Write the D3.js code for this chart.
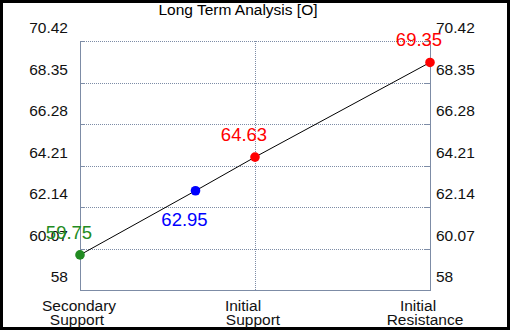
<!DOCTYPE html>
<html><head><meta charset="utf-8">
<script src="https://cdn.jsdelivr.net/npm/d3@7"></script>
<style>
html,body{margin:0;padding:0;background:#fff;}
svg{display:block;font-family:"Liberation Sans",Arial,sans-serif;}
</style></head>
<body>
<svg id="chart" width="510" height="330"></svg>
<script>
const title = "Long Term Analysis [O]";
const categories = [["Secondary","Support"],["Initial","Support"],["Initial","Resistance"]];
const categoryPos = [0, 1, 2];
const yTicks = [58, 60.07, 62.14, 64.21, 66.28, 68.35, 70.42];
const pointValues = [59.75, 62.95, 64.63, 69.35];
const pointPos = [0, 0.66, 1, 2];
const pointColors = ["#228b22", "#0000ff", "#ff0000", "#ff0000"];
const labelBelow = [false, true, false, false];

const W = 510, H = 330;
const svg = d3.select("#chart");
svg.append("rect").attr("x",0).attr("y",0).attr("width",W).attr("height",H).attr("fill","#000");
svg.append("rect").attr("x",3).attr("y",3).attr("width",504).attr("height",324).attr("fill","#fff");

const x = d3.scaleLinear().domain([0,2]).range([80,430]);
const y = d3.scaleLinear().domain([58,70.42]).range([290,41]);
const axisColor = "#7d8ca6";
const textColor = "#111";

// horizontal gridlines
svg.append("g").selectAll("line").data(yTicks.filter(t=>t!==58)).join("line")
  .attr("x1",x(0)).attr("x2",x(2))
  .attr("y1",d=>Math.round(y(d))+0.5).attr("y2",d=>Math.round(y(d))+0.5)
  .attr("stroke",axisColor).attr("stroke-width",1).attr("stroke-dasharray","1,1");
// vertical gridline at middle category
svg.append("line").attr("x1",Math.round(x(1))+0.5).attr("x2",Math.round(x(1))+0.5)
  .attr("y1",y(70.42)).attr("y2",y(58))
  .attr("stroke",axisColor).attr("stroke-dasharray","1,1");
// axes
svg.append("line").attr("x1",x(0)+0.5).attr("x2",x(0)+0.5).attr("y1",y(70.42)).attr("y2",y(58)+0.5).attr("stroke",axisColor);
svg.append("line").attr("x1",x(2)+0.5).attr("x2",x(2)+0.5).attr("y1",y(70.42)).attr("y2",y(58)+0.5).attr("stroke",axisColor);
svg.append("line").attr("x1",x(0)).attr("x2",x(2)+1).attr("y1",y(58)+0.5).attr("y2",y(58)+0.5).attr("stroke",axisColor);
// inward ticks
const tg = svg.append("g");
yTicks.forEach(t=>{
  const yy = Math.round(y(t))+0.5;
  tg.append("line").attr("x1",x(0)).attr("x2",x(0)+5).attr("y1",yy).attr("y2",yy).attr("stroke",axisColor);
  tg.append("line").attr("x1",x(2)-5).attr("x2",x(2)+1).attr("y1",yy).attr("y2",yy).attr("stroke",axisColor);
});
// tick labels
const fmt = d=>String(d);
svg.append("g").selectAll("text").data(yTicks).join("text")
  .attr("x",x(0)-12).attr("y",d=>y(d)-8).attr("text-anchor","end")
  .attr("font-size",15.5).attr("fill",textColor).text(fmt);
svg.append("g").selectAll("text").data(yTicks).join("text")
  .attr("x",x(2)+6).attr("y",d=>y(d)-8).attr("text-anchor","start")
  .attr("font-size",15.5).attr("fill",textColor).text(fmt);

// category labels
const catDx = [[-1,-3],[-12,-2],[-12,-5]];
categories.forEach((lines,i)=>{
  lines.forEach((ln,j)=>{
    svg.append("text").attr("x",x(categoryPos[i])+catDx[i][j]).attr("y",311+j*13.5)
      .attr("text-anchor","middle").attr("font-size",15.5).attr("fill",textColor).text(ln);
  });
});

// title
svg.append("text").attr("x",238).attr("y",15).attr("text-anchor","middle")
  .attr("font-size",15.5).attr("fill","#000").text(title);

// line
const pts = pointValues.map((v,i)=>({x:x(pointPos[i]), y:y(v), v, c:pointColors[i], below:labelBelow[i]}));
svg.append("path").datum(pts).attr("d",d3.line().x(d=>d.x).y(d=>d.y))
  .attr("fill","none").attr("stroke","#000").attr("stroke-width",1);
svg.append("g").selectAll("circle").data(pts).join("circle")
  .attr("cx",d=>d.x).attr("cy",d=>d.y).attr("r",4.8).attr("fill",d=>d.c);
svg.append("g").selectAll("text").data(pts).join("text")
  .attr("x",d=>d.x-11).attr("y",d=>d.below? d.y+35 : d.y-16)
  .attr("text-anchor","middle").attr("font-size",18.5).attr("fill",d=>d.c)
  .text(d=>d.v.toFixed(2));
</script>
</body></html>
